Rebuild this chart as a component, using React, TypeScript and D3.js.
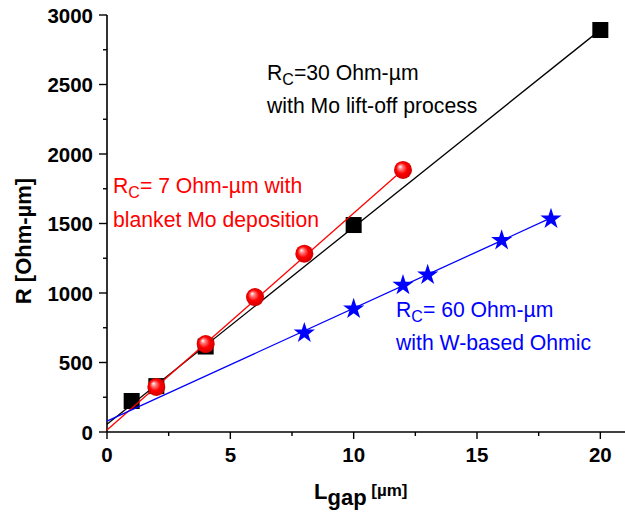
import React from "react";
import * as d3 from "d3";

// ---- data ----
const blackX = [1, 2, 4, 10, 20];
const blackY = [223, 330, 615, 1489, 2892];
const blackFitX = [0, 20];
const blackFitY = [55, 2893];

const redX = [2, 4, 6, 8, 12];
const redY = [324, 633, 971, 1283, 1885];
const redFitX = [0, 12];
const redFitY = [14, 1886];

const blueX = [8, 10, 12, 13, 16, 18];
const blueY = [719, 892, 1063, 1137, 1386, 1540];
const blueFitX = [0, 18];
const blueFitY = [78, 1540];

const xTicks = [0, 5, 10, 15, 20];
const xMinor = [2.5, 7.5, 12.5, 17.5];
const yTicks = [0, 500, 1000, 1500, 2000, 2500, 3000];
const yMinor = [250, 750, 1250, 1750, 2250, 2750];

const W = 625;
const H = 514;
const FONT = "Arial, 'Liberation Sans', Helvetica, sans-serif";

export default function App() {
  const x = d3.scaleLinear().domain([0, 21]).range([107, 625]);
  const y = d3.scaleLinear().domain([0, 3000]).range([432, 15]);

  const line = d3
    .line<[number, number]>()
    .x((d) => x(d[0]))
    .y((d) => y(d[1]));
  const zip = (a: number[], b: number[]) =>
    a.map((v, i) => [v, b[i]] as [number, number]);

  const star = d3.symbol(d3.symbolStar, 140)() as string;
  const sq = 16;
  const AF = 21.2;

  return (
    <svg
      width={W}
      height={H}
      style={{ position: "absolute", left: 0, top: 0, background: "#fff" }}
      fontFamily={FONT}
    >
      <defs>
        <radialGradient id="sphere" cx="0.5" cy="0.5" r="0.55" fx="0.33" fy="0.3">
          <stop offset="0" stopColor="#ffffff" />
          <stop offset="0.22" stopColor="#ff8080" />
          <stop offset="0.55" stopColor="#ff0000" />
          <stop offset="1" stopColor="#c80000" />
        </radialGradient>
      </defs>

      {/* axes */}
      <line x1={x(0)} x2={x(21)} y1={y(0)} y2={y(0)} stroke="#000" strokeWidth={1.6} />
      <line x1={x(0)} x2={x(0)} y1={y(0)} y2={y(3000)} stroke="#000" strokeWidth={1.6} />
      {xTicks.map((t) => (
        <g key={"xt" + t}>
          <line x1={x(t)} x2={x(t)} y1={y(0)} y2={y(0) + 7} stroke="#000" strokeWidth={1.4} />
          <text x={x(t)} y={462} textAnchor="middle" fontSize={20.5} fontWeight="bold">
            {t}
          </text>
        </g>
      ))}
      {xMinor.map((t) => (
        <line key={"xm" + t} x1={x(t)} x2={x(t)} y1={y(0)} y2={y(0) + 4} stroke="#000" strokeWidth={1.4} />
      ))}
      {yTicks.map((t) => (
        <g key={"yt" + t}>
          <line x1={x(0) - 8} x2={x(0)} y1={y(t)} y2={y(t)} stroke="#000" strokeWidth={1.4} />
          <text x={93} y={y(t) + 7.5} textAnchor="end" fontSize={20.5} fontWeight="bold">
            {t}
          </text>
        </g>
      ))}
      {yMinor.map((t) => (
        <line key={"ym" + t} x1={x(0) - 4} x2={x(0)} y1={y(t)} y2={y(t)} stroke="#000" strokeWidth={1.4} />
      ))}

      {/* axis titles */}
      <text
        transform="translate(31,241) rotate(-90)"
        textAnchor="middle"
        fontSize={22}
        fontWeight="bold"
      >
        R [Ohm-µm]
      </text>
      <text x={314} y={499} fontWeight="bold" fontSize={22}>
        L
        <tspan fontSize={22} dy={6}>gap</tspan>
        <tspan fontSize={17} dy={-9}> [µm]</tspan>
      </text>

      {/* black series */}
      <path d={line(zip(blackFitX, blackFitY)) as string} fill="none" stroke="#000" strokeWidth={1.3} />
      {blackX.map((v, i) => (
        <rect
          key={"b" + i}
          x={x(v) - sq / 2}
          y={y(blackY[i]) - sq / 2}
          width={sq}
          height={sq}
          fill="#000"
        />
      ))}

      {/* red series */}
      <path d={line(zip(redFitX, redFitY)) as string} fill="none" stroke="#ff0000" strokeWidth={1.3} />
      {redX.map((v, i) => (
        <circle key={"r" + i} cx={x(v)} cy={y(redY[i])} r={9} fill="url(#sphere)" />
      ))}

      {/* blue series */}
      <path d={line(zip(blueFitX, blueFitY)) as string} fill="none" stroke="#0000ff" strokeWidth={1.3} />
      {blueX.map((v, i) => (
        <path key={"s" + i} d={star} transform={`translate(${x(v)},${y(blueY[i]) + 1})`} fill="#0000ff" />
      ))}

      {/* annotations */}
      <text x={267} y={80} fontSize={AF} fill="#000">
        R<tspan fontSize={16} dy={5}>C</tspan>
        <tspan dy={-5}>=30 Ohm-µm</tspan>
      </text>
      <text x={267} y={113} fontSize={AF} fill="#000">
        with Mo lift-off process
      </text>

      <text x={113} y={193} fontSize={AF} fill="#ff0000">
        R<tspan fontSize={16} dy={5}>C</tspan>
        <tspan dy={-5}>= 7 Ohm-µm with</tspan>
      </text>
      <text x={113} y={227} fontSize={AF} fill="#ff0000">
        blanket Mo deposition
      </text>

      <text x={396} y={317} fontSize={AF} fill="#0000ff">
        R<tspan fontSize={16} dy={5}>C</tspan>
        <tspan dy={-5}>= 60 Ohm-µm</tspan>
      </text>
      <text x={396} y={350} fontSize={AF} fill="#0000ff">
        with W-based Ohmic
      </text>
    </svg>
  );
}
